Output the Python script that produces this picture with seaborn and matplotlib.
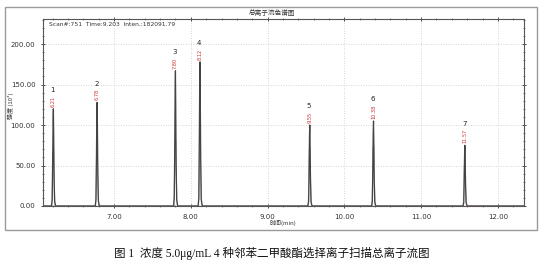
import matplotlib
matplotlib.use("Agg")
import matplotlib.pyplot as plt
import seaborn as sns
import pandas as pd
from matplotlib.patches import Rectangle

# ---- data ----
peak_numbers = ["1", "2", "3", "4", "5", "6", "7"]
retention_times = [6.21, 6.78, 7.80, 8.12, 9.55, 10.38, 11.57]
peak_heights = [120, 128, 167, 178, 100, 105, 75]
rt_labels = ["6.21", "6.78", "7.80", "8.12", "9.55", "10.38", "11.57"]

# total ion chromatogram trace (time, intensity x10^3)
trace_time = [6.07, 6.185, 6.195, 6.201, 6.206, 6.210, 6.214, 6.219, 6.226, 6.24,
              6.755, 6.765, 6.771, 6.776, 6.780, 6.784, 6.789, 6.796, 6.81,
              7.775, 7.785, 7.791, 7.796, 7.800, 7.804, 7.809, 7.816, 7.83,
              8.095, 8.105, 8.111, 8.116, 8.120, 8.124, 8.129, 8.136, 8.15,
              9.525, 9.535, 9.541, 9.546, 9.550, 9.554, 9.559, 9.566, 9.58,
              10.355, 10.365, 10.371, 10.376, 10.380, 10.384, 10.389, 10.396, 10.41,
              11.545, 11.555, 11.561, 11.566, 11.570, 11.574, 11.579, 11.586, 11.60, 12.34]
trace_int = [0, 0, 8, 58, 105, 120, 92, 40, 6, 0,
             0, 8, 60, 112, 128, 98, 42, 6, 0,
             0, 10, 78, 145, 167, 125, 55, 8, 0,
             0, 10, 82, 155, 178, 132, 58, 8, 0,
             0, 6, 45, 88, 100, 76, 32, 5, 0,
             0, 6, 48, 92, 105, 80, 34, 5, 0,
             0, 4, 34, 64, 75, 57, 24, 4, 0, 0]
# lighter overlaid trace (peak shoulders)
shade_time = [6.07, 6.19, 6.198, 6.204, 6.212, 6.220, 6.23, 6.24,
              6.76, 6.768, 6.774, 6.782, 6.790, 6.80, 6.81,
              7.78, 7.788, 7.794, 7.802, 7.810, 7.82, 7.83,
              8.10, 8.108, 8.114, 8.122, 8.130, 8.14, 8.15,
              9.53, 9.538, 9.544, 9.552, 9.560, 9.57, 9.58,
              10.36, 10.368, 10.374, 10.382, 10.390, 10.40, 10.41,
              11.55, 11.558, 11.564, 11.572, 11.580, 11.59, 11.60, 12.34]
shade_int = [0, 0, 30, 62, 70, 28, 2, 0,
             0, 28, 60, 65, 30, 2, 0,
             0, 35, 70, 80, 40, 3, 0,
             0, 40, 85, 90, 45, 3, 0,
             0, 30, 70, 72, 30, 2, 0,
             0, 32, 72, 75, 32, 2, 0,
             0, 22, 50, 52, 22, 2, 0, 0]
# integration baseline marks (start, end)
base_start = [6.19, 6.75, 7.77, 8.10, 9.52, 10.35, 11.54]
base_end = [6.24, 6.82, 7.84, 8.22, 9.60, 10.42, 11.78]

df = pd.DataFrame({"time": trace_time, "intensity": trace_int})
df2 = pd.DataFrame({"time": shade_time, "intensity": shade_int})

sns.set_theme(style="white")
plt.rcParams["font.family"] = ["DejaVu Sans", "Noto Sans CJK SC"]
cjk = ["Noto Sans CJK SC", "DejaVu Sans"]

fig = plt.figure(figsize=(5.44, 2.67), dpi=100)
ax = fig.add_axes([43 / 544, 1 - 206 / 267, (524 - 43) / 544, (206 - 19) / 267])

# outer frame
fig.patches.append(Rectangle((5 / 544, 1 - 230 / 267), 532 / 544, 223 / 267,
                             transform=fig.transFigure, fill=False,
                             edgecolor="#9a9a9a", linewidth=1.0))

sns.lineplot(data=df2, x="time", y="intensity", ax=ax, sort=False, estimator=None,
             color="#b5b5b5", linewidth=0.9)
sns.lineplot(data=df, x="time", y="intensity", ax=ax, sort=False, estimator=None,
             color="#444444", linewidth=0.9)

for s, e in zip(base_start, base_end):
    ax.plot([s, e], [0.6, 0.6], color="#d06060", linewidth=0.9)

for num, rt, h, lab in zip(peak_numbers, retention_times, peak_heights, rt_labels):
    ax.annotate(lab, (rt, h), xytext=(0, 1.5), textcoords="offset points",
                ha="center", va="bottom", rotation=90, fontsize=3.6, color="#d03030")
    ax.annotate(num, (rt, h), xytext=(-0.5, 3.0 + 2.1 * len(lab)),
                textcoords="offset points", ha="center", va="bottom",
                fontsize=5.0, color="#222222")

ax.set_xlim(6.075, 12.34)
ax.set_ylim(0, 231)
ax.set_xticks([7, 8, 9, 10, 11, 12])
ax.set_xticklabels(["7.00", "8.00", "9.00", "10.00", "11.00", "12.00"])
ax.set_yticks([0, 50, 100, 150, 200])
ax.set_yticklabels(["0.00", "50.00", "100.00", "150.00", "200.00"])
ax.set_xticks([x / 10 for x in range(62, 124, 2)], minor=True)
ax.set_yticks(list(range(0, 231, 10)), minor=True)
ax.tick_params(axis="both", which="major", labelsize=5, colors="#333333",
               length=3, width=0.6, direction="inout", top=True, right=True,
               pad=4)
ax.tick_params(axis="both", which="minor", length=2, width=0.5, direction="inout",
               top=True, right=True, colors="#555555")
ax.tick_params(axis="x", which="both", bottom=True)
ax.tick_params(axis="y", which="both", left=True)
ax.grid(True, which="major", linestyle=(0, (1, 2)), color="#c8c8c8", linewidth=0.6)
for sp in ax.spines.values():
    sp.set_color("#555555")
    sp.set_linewidth(0.8)
ax.set_xlabel("")
ax.set_ylabel("")

ax.text(0.012, 0.985, "Scan#:751  Time:9.203  Inten.:182091.79", transform=ax.transAxes,
        fontsize=4.3, va="top", ha="left", color="#333333")
fig.text(272 / 544, 1 - 13 / 267, "总离子流色谱图", ha="center", va="center",
         fontsize=4.8, family=cjk, color="#333333")
fig.text(11 / 544, 1 - 106 / 267, "强度 (10³)", ha="center", va="center",
         rotation=90, fontsize=4.3, family=cjk, color="#333333")
fig.text(283 / 544, 1 - 223 / 267, "时间(min)", ha="center", va="center",
         fontsize=4.3, family=cjk, color="#333333")
fig.text(272 / 544, 1 - 253 / 267, "图 1  浓度 5.0μg/mL 4 种邻苯二甲酸酯选择离子扫描总离子流图",
         ha="center", va="center", fontsize=8.3,
         family=["Liberation Serif", "Noto Sans CJK SC"], color="#111111")

fig.savefig("out.png", dpi=100)
